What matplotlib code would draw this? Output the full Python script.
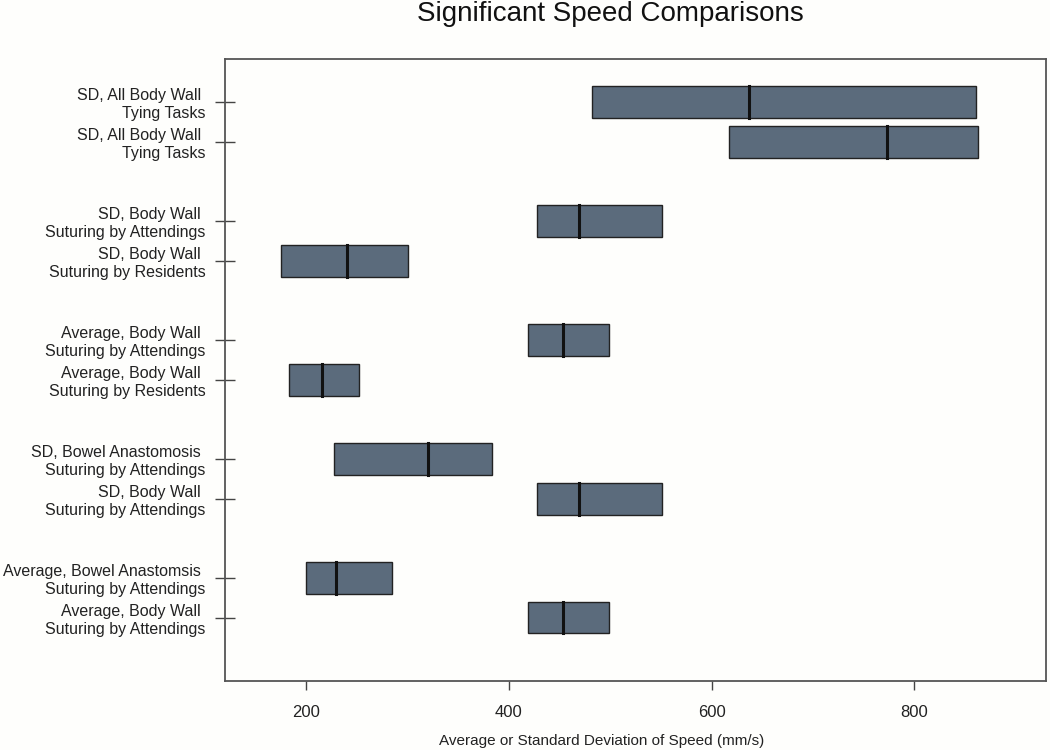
import matplotlib
matplotlib.use("Agg")
import matplotlib.pyplot as plt
from matplotlib.patches import Rectangle

# comparisons, top to bottom
labels = [
    "SD, All Body Wall \nTying Tasks",
    "SD, All Body Wall \nTying Tasks",
    "SD, Body Wall \nSuturing by Attendings",
    "SD, Body Wall \nSuturing by Residents",
    "Average, Body Wall \nSuturing by Attendings",
    "Average, Body Wall \nSuturing by Residents",
    "SD, Bowel Anastomosis \nSuturing by Attendings",
    "SD, Body Wall \nSuturing by Attendings",
    "Average, Bowel Anastomsis \nSuturing by Attendings",
    "Average, Body Wall \nSuturing by Attendings",
]
low = [482, 617, 428, 175, 419, 183, 228, 428, 200, 419]
mid = [637, 773, 469, 240, 453, 216, 320, 469, 230, 453]
high = [861, 863, 551, 301, 499, 252, 383, 551, 285, 499]
# row slots (a blank slot between each pair)
rows = [0, 1, 3, 4, 6, 7, 9, 10, 12, 13]
xticks = [200, 400, 600, 800]

BOX = "#5b6b7c"
BG = "#fefefc"
plt.rcParams["font.family"] = ["Liberation Sans", "DejaVu Sans"]

fig = plt.figure(figsize=(10.5, 7.5), dpi=100, facecolor=BG)
ax = fig.add_axes([225 / 1050, 1 - 680.7 / 750, (1046 - 225) / 1050, (680.7 - 59.3) / 750])
ax.set_facecolor(BG)

h = 0.8
for y, lo, md, hi in zip(rows, low, mid, high):
    ax.add_patch(Rectangle((lo, y - h / 2), hi - lo, h, facecolor=BOX,
                           edgecolor="#222222", linewidth=1.0, zorder=2))
    ax.plot([md, md], [y - h / 2, y + h / 2], color="#111111", lw=2.2, zorder=3)

ax.set_xlim(120, 930)
ax.set_ylim(14.59, -1.076)
ax.set_xticks(xticks)
ax.set_xticklabels([str(t) for t in xticks], fontsize=12, color="#222222")
ax.set_yticks(rows)
ax.set_yticklabels(labels, fontsize=11.5, color="#222222", ha="right",
                   multialignment="right")
ax.tick_params(axis="y", direction="inout", length=15, width=1.0,
               color="#444444", pad=6.5)
ax.tick_params(axis="x", direction="out", length=6.5, width=1.0,
               color="#444444", pad=11)
for s in ax.spines.values():
    s.set_color("#555555")
    s.set_linewidth(1.3)

fig.text(602 / 1050, 1 - 741 / 750, "Average or Standard Deviation of Speed (mm/s)",
         ha="center", va="center", fontsize=11, color="#222222")
fig.text(610 / 1050, 1 - 14 / 750, "Significant Speed Comparisons", ha="center",
         va="center", fontsize=20, color="#111111")

fig.savefig("out.png", dpi=100, facecolor=BG)
